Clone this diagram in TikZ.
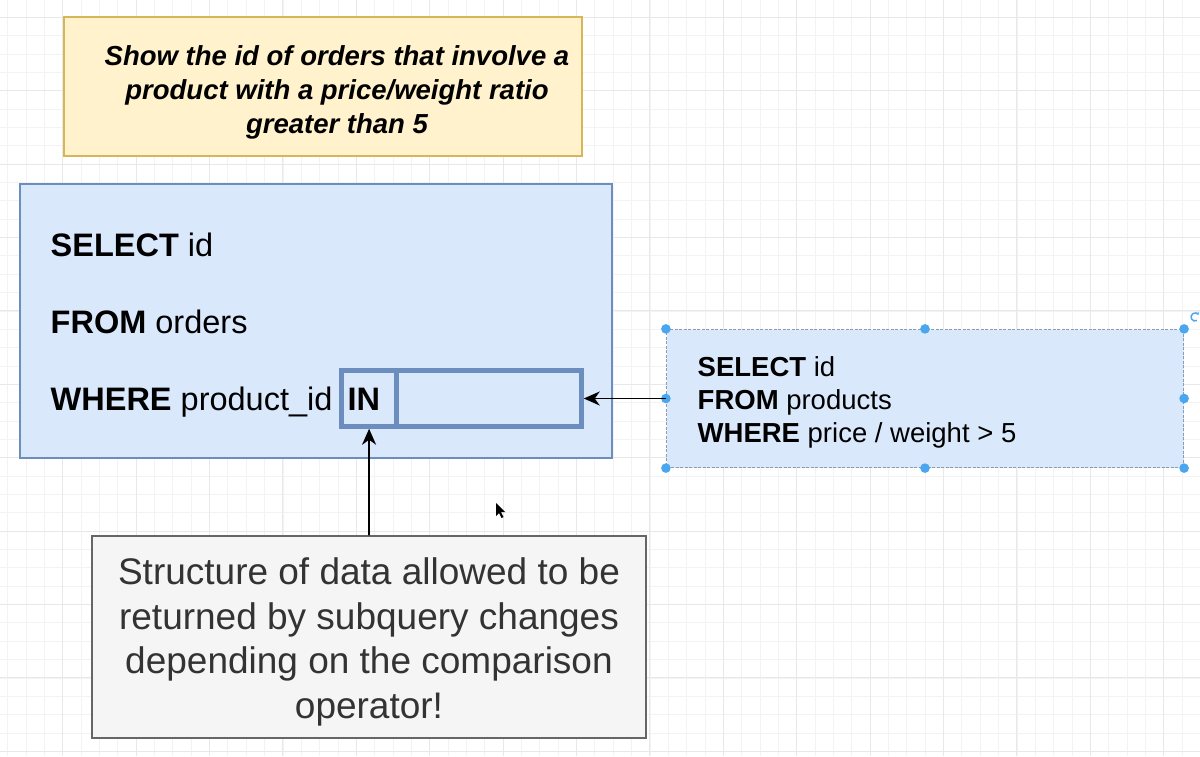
\documentclass[tikz,border=0pt]{standalone}
\usepackage{fontspec}
\setmainfont{Liberation Sans}
\usetikzlibrary{arrows.meta}
\definecolor{bluefill}{HTML}{DAE8FC}
\definecolor{bluedraw}{HTML}{6C8EBF}
\definecolor{yellowfill}{HTML}{FFF2CC}
\definecolor{yellowdraw}{HTML}{D6B656}
\definecolor{grayfill}{HTML}{F5F5F5}
\definecolor{graydraw}{HTML}{666666}
\definecolor{graytext}{HTML}{333333}
\definecolor{handlecol}{HTML}{4AA6EE}
\definecolor{gridminor}{HTML}{F3F3F3}
\definecolor{gridmajor}{HTML}{E8E8E8}
\definecolor{seldash}{HTML}{8A9BB5}
\tikzset{
  minorline/.style={draw=gridminor, line width=0.8pt},
  majorline/.style={draw=gridmajor, line width=1pt},
  taskbox/.style={draw=yellowdraw, fill=yellowfill, line width=1.5pt, inner sep=0pt},
  querybox/.style={draw=bluedraw, fill=bluefill, line width=1.5pt, inner sep=0pt},
  slotbox/.style={draw=bluedraw, fill=bluefill, line width=4.5pt, inner sep=0pt},
  subbox/.style={draw=seldash, fill=bluefill, line width=1.2pt, dash pattern=on 3pt off 1.5pt, inner sep=0pt},
  notebox/.style={draw=graydraw, fill=grayfill, line width=1.5pt, inner sep=0pt},
  bigsql/.style={font=\fontsize{32.5}{36}\selectfont, anchor=base west, inner sep=0pt},
  smallsql/.style={font=\fontsize{27.5}{30}\selectfont, anchor=base west, inner sep=0pt},
  conn/.style={draw=black, line width=1.8pt, -{Stealth[length=16pt,width=14pt,inset=5pt]}},
  handle/.style={fill=handlecol, draw=none},
}
\begin{document}
\begin{tikzpicture}[x=1pt,y=-1pt]
\useasboundingbox (0,0) rectangle (1200,756);
\fill[white] (0,0) rectangle (1200,756);
% grid
\foreach \i in {0,...,65} \draw[minorline] ({7.65+\i*18.35},0) -- ({7.65+\i*18.35},756);
\foreach \i in {0,...,41} \draw[minorline] (0,{-1.05+\i*18.35}) -- (1200,{-1.05+\i*18.35});
\foreach \i in {0,...,16} \draw[majorline] ({-10.7+\i*73.4},0) -- ({-10.7+\i*73.4},756);
\foreach \i in {0,...,10} \draw[majorline] (0,{17.3+\i*73.4}) -- (1200,{17.3+\i*73.4});

% task box
\node[taskbox, minimum width=518pt, minimum height=139pt] (task) at (323,86.5) {};
\node[font=\fontsize{27.5}{34}\selectfont\bfseries\itshape, align=center, inner sep=0pt] (tasktext) at (337,92)
  {Show the id of orders that involve a\\product with a price/weight ratio\\greater than 5};

% main query box
\node[querybox, minimum width=592pt, minimum height=274pt] (query) at (316,321) {};
\node[bigsql] (l1) at (50.5,256) {\textbf{SELECT} id};
\node[bigsql] (l2) at (50.5,333.5) {\textbf{FROM} orders};
\node[bigsql] (l3) at (50.5,410.5) {\textbf{WHERE} product\_id};

% IN slot boxes
\node[slotbox, minimum width=55.2pt, minimum height=56pt] (inop) at (369.1,398.5) {};
\node[slotbox, minimum width=184.8pt, minimum height=56pt] (sub) at (489.1,398.5) {};
\node[bigsql] (intext) at (347.5,410.5) {\textbf{IN}};

% subquery box
\node[subbox, minimum width=517pt, minimum height=138pt] (subq) at (925,398.5) {};
\node[smallsql] (s1) at (697.5,376) {\textbf{SELECT} id};
\node[smallsql] (s2) at (697.5,409) {\textbf{FROM} products};
\node[smallsql] (s3) at (697.5,442) {\textbf{WHERE} price / weight > 5};
\foreach \a in {north west,north,north east,east,south east,south,south west,west}
  \fill[handle] (subq.\a) circle (4.8pt);
\coordinate (rot) at (1195,317);
\draw[handlecol, line width=1.5pt, -{Stealth[length=3pt,width=4pt]}] ([shift={(rot)}]60:4) arc (60:330:4);

% note box
\node[notebox, minimum width=554pt, minimum height=202pt] (note) at (369,637) {};
\node[font=\fontsize{37}{44.5}\selectfont, text=graytext, align=center, inner sep=0pt] (notetext) at (369,642)
  {Structure of data allowed to be\\returned by subquery changes\\depending on the comparison\\operator!};

% connectors
\draw[conn] (subq.west) -- (sub.east);
\draw[conn] (note.north) -- (inop.south);

% mouse cursor
\coordinate (cur) at (496,503);
\fill[black] (cur) -- ++(0,13) -- ++(3,-3) -- ++(2.5,5) -- ++(2,-1) -- ++(-2.5,-4.8) -- ++(4.3,0) -- cycle;
\end{tikzpicture}
\end{document}
